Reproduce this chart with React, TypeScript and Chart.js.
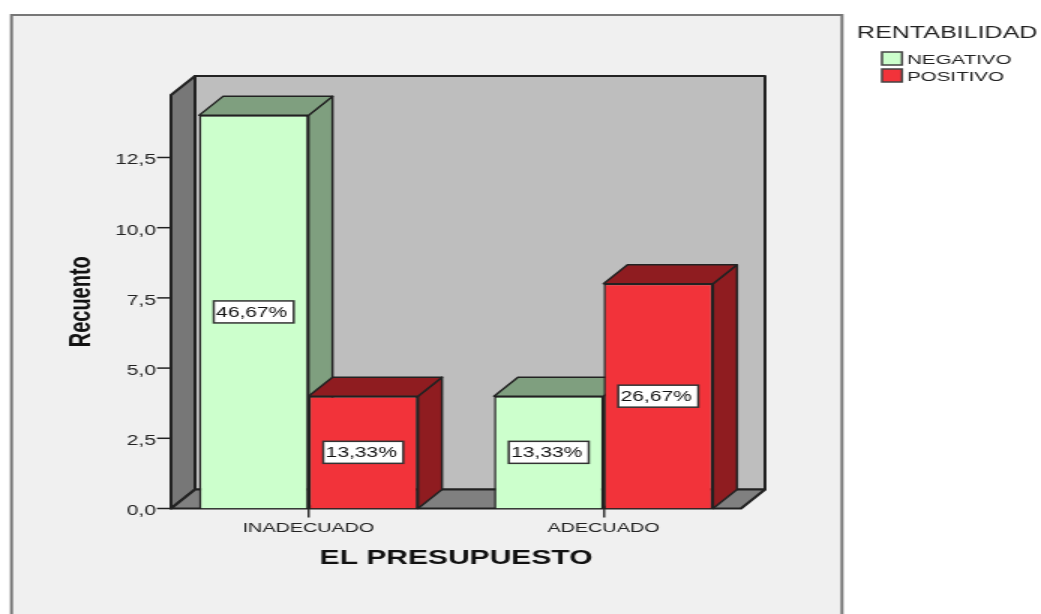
import React, { useEffect, useRef } from "react";
import { Chart, registerables } from "chart.js";

Chart.register(...registerables);

const categories = ["INADECUADO", "ADECUADO"];
const negativo = [14, 4];
const positivo = [4, 8];
const negativoPct = ["46,67%", "13,33%"];
const positivoPct = ["13,33%", "26,67%"];
const yTicksStep = 2.5;
const yMax = 14.725;
const legendTitle = "RENTABILIDAD";
const seriesNames = ["NEGATIVO", "POSITIVO"];
const xTitle = "EL PRESUPUESTO";
const yTitle = "Recuento";

const S = 1.5; // the reference is stretched horizontally
const W = 1041 / S;
const H = 614;
const X = (v: number) => v / S;
const FONT = "'Liberation Sans', Arial, sans-serif";
const LINE = "#222222";

const DX = X(24);
const DY = -19;

function poly(ctx: CanvasRenderingContext2D, pts: number[][], fill: string, stroke = LINE, lw = 2) {
  ctx.beginPath();
  pts.forEach((p, i) => (i ? ctx.lineTo(p[0], p[1]) : ctx.moveTo(p[0], p[1])));
  ctx.closePath();
  ctx.fillStyle = fill;
  ctx.fill();
  ctx.lineWidth = lw;
  ctx.strokeStyle = stroke;
  ctx.lineJoin = "round";
  ctx.stroke();
}

const shade = ["#7F9F7F", "#8F1C20"];

const scene = {
  id: "scene",
  beforeDraw(chart: any) {
    const ctx = chart.ctx as CanvasRenderingContext2D;
    const y = chart.scales.y;
    const y0 = y.getPixelForValue(0);
    const yTop = y.top;
    const l = X(171);
    const r = X(741);
    ctx.save();
    ctx.fillStyle = "#ffffff";
    ctx.fillRect(0, 0, W, H);
    // frame
    ctx.fillStyle = "#F0F0F0";
    ctx.fillRect(X(12), 15, X(830), H);
    ctx.strokeStyle = "#777777";
    ctx.lineWidth = 2;
    ctx.beginPath();
    ctx.moveTo(X(11.5), H);
    ctx.lineTo(X(11.5), 15);
    ctx.lineTo(X(842), 15);
    ctx.lineTo(X(842), H);
    ctx.stroke();
    // walls
    poly(ctx, [[l + DX, yTop + DY], [r + DX, yTop + DY], [r + DX, y0 + DY], [l + DX, y0 + DY]], "#BEBEBE");
    poly(ctx, [[l, yTop], [l + DX, yTop + DY], [l + DX, y0 + DY], [l, y0]], "#777777");
    poly(ctx, [[l, y0], [l + DX, y0 + DY], [r + DX, y0 + DY], [r, y0]], "#808080");
    // y tick marks
    ctx.strokeStyle = LINE;
    ctx.lineWidth = 1.5;
    y.ticks.forEach((t: any) => {
      const py = y.getPixelForValue(t.value);
      ctx.beginPath();
      ctx.moveTo(X(157), py);
      ctx.lineTo(l, py);
      ctx.stroke();
    });
    ctx.restore();
  },
  beforeDatasetsDraw(chart: any) {
    const ctx = chart.ctx as CanvasRenderingContext2D;
    ctx.save();
    [0, 1].forEach((c) => {
      [0, 1].forEach((d) => {
        const b = chart.getDatasetMeta(d).data[c];
        const a = b.x - b.width / 2;
        const e = b.x + b.width / 2;
        poly(ctx, [[e, b.y], [e + DX, b.y + DY], [e + DX, b.base + DY], [e, b.base]], shade[d], LINE, 1.5);
        poly(ctx, [[a, b.y], [a + DX, b.y + DY], [e + DX, b.y + DY], [e, b.y]], shade[d], LINE, 1.5);
      });
    });
    ctx.restore();
  },
  afterDatasetsDraw(chart: any) {
    const ctx = chart.ctx as CanvasRenderingContext2D;
    ctx.save();
    ctx.textAlign = "center";
    ctx.textBaseline = "middle";
    ctx.font = `14px ${FONT}`;
    [negativoPct, positivoPct].forEach((labels, d) => {
      labels.forEach((txt, c) => {
        const b = chart.getDatasetMeta(d).data[c];
        const cy = (b.y + b.base) / 2;
        const w = X(80);
        const h = 22;
        ctx.fillStyle = "#ffffff";
        ctx.fillRect(b.x - w / 2, cy - h / 2, w, h);
        ctx.strokeStyle = "#333333";
        ctx.lineWidth = 1.5;
        ctx.strokeRect(b.x - w / 2, cy - h / 2, w, h);
        ctx.fillStyle = "#111111";
        ctx.fillText(txt, b.x - X(2), cy + 1);
      });
    });
    // legend
    ctx.textAlign = "left";
    ctx.fillStyle = "#222222";
    ctx.font = `16.7px ${FONT}`;
    ctx.fillText(legendTitle, X(857), 33);
    ctx.font = `13.7px ${FONT}`;
    seriesNames.forEach((name, i) => {
      const top = 52 + i * 17;
      ctx.fillStyle = chart.data.datasets[i].backgroundColor;
      ctx.fillRect(X(882), top, X(20), 13);
      ctx.strokeStyle = "#444444";
      ctx.lineWidth = 1.5;
      ctx.strokeRect(X(882), top, X(20), 13);
      ctx.fillStyle = "#222222";
      ctx.fillText(name, X(907), top + 8);
    });
    ctx.restore();
  },
};

export default function App() {
  const ref = useRef<HTMLCanvasElement>(null);
  useEffect(() => {
    const chart = new Chart(ref.current!, {
      type: "bar",
      data: {
        labels: categories,
        datasets: [
          { label: seriesNames[0], data: negativo, backgroundColor: "#CCFFCC", borderColor: LINE, borderWidth: 1.5 },
          { label: seriesNames[1], data: positivo, backgroundColor: "#F2333A", borderColor: LINE, borderWidth: 1.5 },
        ],
      },
      plugins: [scene as any],
      options: {
        animation: false,
        responsive: false,
        devicePixelRatio: 1,
        layout: { padding: { left: 0, top: 95, right: W - X(751), bottom: 0 } },
        datasets: { bar: { categoryPercentage: 0.7424, barPercentage: 1 } },
        plugins: { legend: { display: false }, tooltip: { enabled: false }, title: { display: false } },
        scales: {
          x: {
            offset: true,
            afterFit: (s: any) => { s.height = H - 508.5; },
            grid: { display: true, offset: false, drawOnChartArea: false, drawTicks: true, tickLength: 9, color: "#333333", lineWidth: 1.5 },
            border: { display: false },
            ticks: { padding: 3, maxRotation: 0, color: "#222222", font: { family: FONT, size: 13.2 } },
            title: { display: true, text: xTitle, color: "#111111", font: { family: FONT, size: 20, weight: "bold" }, padding: { top: 0, bottom: 44 } },
          },
          y: {
            min: 0,
            max: yMax,
            afterFit: (s: any) => { s.width = X(161); },
            grid: { display: false, drawTicks: false },
            border: { display: false },
            ticks: {
              stepSize: yTicksStep,
              includeBounds: false,
              padding: 3.3,
              labelOffset: 3,
              color: "#222222",
              font: { family: FONT, size: 14 },
              callback: (v: any) => Number(v).toFixed(1).replace(".", ","),
            },
            title: { display: true, text: yTitle, color: "#111111", font: { family: FONT, size: 20, weight: "bold" }, padding: { top: 42, bottom: 0 } },
          },
        },
      } as any,
    });
    return () => chart.destroy();
  }, []);
  return (
    <div style={{ position: "fixed", left: 0, top: 0, width: 1041, height: 614, overflow: "hidden", background: "#fff" }}>
      <canvas
        ref={ref}
        width={W}
        height={H}
        style={{ display: "block", transform: `scaleX(${S})`, transformOrigin: "0 0" }}
      />
    </div>
  );
}
